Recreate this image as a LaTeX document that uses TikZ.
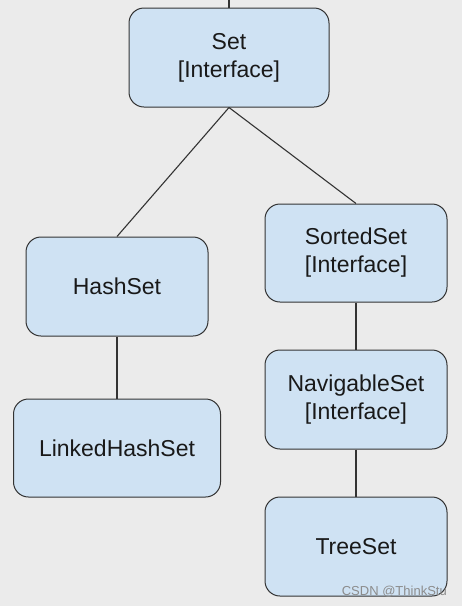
\documentclass[tikz,border=0pt]{standalone}
\usepackage{fontspec}
\setmainfont{Liberation Sans}
\begin{document}
\begin{tikzpicture}[x=1pt,y=-1pt,
  box/.style={draw=black!80, line width=1pt, fill=boxfill, rounded corners=15pt,
    minimum width=#1, minimum height=99pt, align=center, inner sep=0pt,
    font=\fontsize{23}{28}\selectfont, text=black!90},
  box/.default=182pt,
  link/.style={draw=black!80, line width=1.1pt}]
\definecolor{boxfill}{HTML}{CFE2F3}
\definecolor{bg}{HTML}{EBEBEB}
\fill[bg] (0,0) rectangle (462,606);
\useasboundingbox (0,0) rectangle (462,606);
\node[box=200pt] (set) at (229,57.5) {Set\\{}[Interface]};
\node[box] (hash) at (117,286.5) {HashSet};
\node[box=207pt, minimum height=98pt] (linked) at (117,448) {LinkedHashSet};
\node[box, minimum height=98pt] (sorted) at (356,253) {SortedSet\\{}[Interface]};
\node[box] (nav) at (356,399.5) {NavigableSet\\{}[Interface]};
\node[box] (tree) at (356,546.5) {TreeSet};
\coordinate (topend) at (229,0);
\draw[link] (topend) -- (set.north);
\draw[link] (set.south) -- (hash.north);
\draw[link] (set.south) -- (sorted.north);
\draw[link] (hash.south) -- (linked.north);
\draw[link] (sorted.south) -- (nav.north);
\draw[link] (nav.south) -- (tree.north);
\node[anchor=base east, inner sep=0pt, text=black!45, font=\fontsize{13}{15}\selectfont] (wm) at (447,595) {CSDN @ThinkStu};
\end{tikzpicture}
\end{document}
